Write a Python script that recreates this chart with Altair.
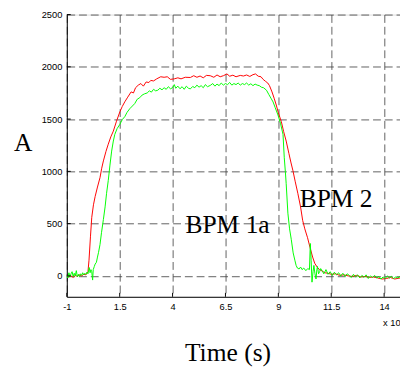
import altair as alt
import pandas as pd

red_x = [-1.0, -0.9, -0.8, -0.7, -0.6, -0.5, -0.4, -0.3, -0.2, -0.1, 0.0, 0.05, 0.12, 0.18, 0.26, 0.34,
         0.45, 0.57, 0.65, 0.73, 0.85, 0.96, 1.08, 1.2, 1.35, 1.51, 1.62, 1.74, 1.88, 2.04, 2.15, 2.25,
         2.38, 2.5, 2.62, 2.75, 2.88, 2.97, 3.1, 3.25, 3.44, 3.6, 3.75, 3.9, 4.08, 4.25, 4.4, 4.6, 4.84,
         5.0, 5.15, 5.3, 5.45, 5.6, 5.78, 5.95, 6.1, 6.25, 6.4, 6.57, 6.7, 6.85, 7.0, 7.2, 7.35, 7.5,
         7.65, 7.8, 7.92, 8.05, 8.18, 8.28, 8.4, 8.5, 8.58, 8.7, 8.8, 8.9, 9.0, 9.14, 9.25, 9.37, 9.5,
         9.6, 9.69, 9.8, 9.92, 10.05, 10.15, 10.25, 10.38, 10.5, 10.62, 10.72, 10.85, 10.95, 11.08,
         11.2, 11.35, 11.5, 11.7, 11.9, 12.1, 12.3, 12.5, 12.7, 12.9, 13.1, 13.3, 13.5, 13.7, 13.9,
         14.1, 14.3, 14.5, 14.75]
red_y = [5, -10, 0, -15, 5, -5, 10, 0, 15, 10, 40, 150, 380, 560, 680, 760,
         850, 940, 1030, 1100, 1190, 1260, 1330, 1385, 1480, 1570, 1620, 1665, 1710, 1760, 1750, 1800,
         1825, 1840, 1815, 1855, 1850, 1870, 1865, 1885, 1905, 1900, 1905, 1880, 1885, 1895, 1885, 1900, 1898,
         1915, 1900, 1912, 1895, 1918, 1915, 1900, 1922, 1905, 1915, 1932, 1910, 1920, 1905, 1918, 1912, 1922,
         1908, 1925, 1932, 1910, 1905, 1880, 1860, 1845, 1820, 1760, 1700, 1635, 1560, 1476, 1380, 1290, 1170,
         1080, 1006, 900, 790, 660, 530, 450, 365, 270, 180, 120, 80, 60, 45,
         30, 25, 15, 20, 5, 10, 0, -5, 5, -10, -5, -15, -10, -20, -30,
         -25, -15, -30, -20]

green_x = [-1.0, -0.95, -0.9, -0.85, -0.8, -0.75, -0.7, -0.65, -0.6, -0.55, -0.5, -0.45, -0.4, -0.35,
           -0.3, -0.25, -0.2, -0.15, -0.1, -0.05, 0.0, 0.06, 0.1, 0.14, 0.18, 0.22, 0.25, 0.3, 0.34,
           0.4, 0.45, 0.5, 0.57, 0.64, 0.73, 0.81, 0.88, 0.96, 1.04, 1.12, 1.2, 1.27, 1.38, 1.51, 1.62,
           1.74, 1.85, 1.98, 2.1, 2.21, 2.33, 2.45, 2.56, 2.68, 2.8, 2.9, 3.0, 3.1, 3.2, 3.3, 3.4, 3.5,
           3.6, 3.7, 3.8, 3.9, 4.0, 4.08, 4.15, 4.25, 4.35, 4.45, 4.55, 4.65, 4.75, 4.84, 4.95, 5.05,
           5.15, 5.25, 5.35, 5.45, 5.55, 5.65, 5.78, 5.9, 6.0, 6.1, 6.2, 6.3, 6.4, 6.5, 6.6, 6.7, 6.8,
           6.9, 7.0, 7.1, 7.2, 7.3, 7.4, 7.5, 7.6, 7.7, 7.8, 7.9, 8.0, 8.1, 8.2, 8.3, 8.44, 8.55, 8.65,
           8.75, 8.85, 8.98, 9.1, 9.22, 9.28, 9.33, 9.37, 9.45, 9.53, 9.61, 9.7, 9.78, 9.84, 9.9, 9.98,
           10.05, 10.12, 10.2, 10.3, 10.39, 10.47, 10.51, 10.55, 10.59, 10.64, 10.68, 10.73, 10.78,
           10.82, 10.85, 10.9, 10.95, 11.0, 11.08, 11.15, 11.25, 11.35, 11.45, 11.55, 11.65, 11.75,
           11.85, 11.95, 12.05, 12.15, 12.25, 12.35, 12.45, 12.55, 12.65, 12.75, 12.85, 12.95, 13.05,
           13.15, 13.25, 13.35, 13.45, 13.55, 13.65, 13.75, 13.85, 13.95, 14.05, 14.15, 14.25, 14.35,
           14.45, 14.55, 14.65, 14.75]
green_y = [10, -20, 30, -10, 20, 40, -5, 25, 0, 50, -10, 15, -5, 20,
           5, 30, 10, 25, 15, 35, 20, 80, 30, 60, 40, -40, 60, 90, 113,
           130, 180, 225, 300, 413, 540, 660, 790, 912, 1060, 1194, 1290, 1354, 1410, 1450, 1495,
           1523, 1565, 1600, 1625, 1648, 1690, 1705, 1730, 1742, 1750, 1770, 1758, 1785, 1770, 1776, 1795, 1780,
           1800, 1785, 1810, 1790, 1800, 1830, 1795, 1815, 1790, 1810, 1785, 1815, 1795, 1789, 1812, 1800,
           1825, 1805, 1820, 1800, 1830, 1810, 1822, 1840, 1815, 1835, 1820, 1845, 1825, 1840, 1830, 1850, 1825,
           1840, 1830, 1845, 1825, 1840, 1830, 1845, 1825, 1838, 1820, 1835, 1825, 1820, 1805, 1800, 1776, 1735, 1700,
           1664, 1610, 1540, 1460, 1354, 1130, 1000, 883, 600, 450, 350, 220, 150, 100, 75, 66,
           85, 60, 75, 50, 70, 60, 310, 150, -60, 40, 100, 20, -30,
           60, 90, 20, 40, 70, 45, 20, 60, 15, 40, 5, 35, 10,
           30, 0, 25, -5, 20, 5, -15, 15, -10, 10, -20, 5, -15,
           10, -25, 0, -15, 5, -20, -5, -30, -10, -25, 0, -20, -5,
           -25, -10, -20, -5]

series_names = ["BPM 2", "BPM 1a"]
series_colors = ["#ff0000", "#00ff00"]

x_ticks = [-1, 1.5, 4, 6.5, 9, 11.5, 14]
y_ticks = [0, 500, 1000, 1500, 2000, 2500]

label_text = ["BPM 1a", "BPM 2", "x 10"]
label_x = [6.6, 11.73, 13.95]
label_y = [410, 659, -480]
label_align = ["center", "center", "left"]
label_size = [26, 26, 9.5]
label_font = ["Liberation Serif", "Liberation Serif", "Liberation Sans"]

df = pd.concat([
    pd.DataFrame({"t": red_x, "v": red_y, "s": series_names[0]}),
    pd.DataFrame({"t": green_x, "v": green_y, "s": series_names[1]}),
])

X_DOM = [-1, 14.75]
Y_DOM = [-200, 2500]
W, H = 340, 288

xs = alt.Scale(domain=X_DOM, nice=False, zero=False)
ys = alt.Scale(domain=Y_DOM, nice=False, zero=False)

grid_kw = dict(grid=True, gridColor="#444", gridDash=[8, 4], gridWidth=1, gridOpacity=0.85,
               domainColor="#000", domainWidth=1, ticks=False,
               labelFont="Liberation Sans", labelFontSize=9.5, labelColor="#000",
               labelExpr="'' + datum.value",
               titleFont="Liberation Serif", titleFontSize=26, titleFontWeight="normal", titleColor="#000")

lines = alt.Chart(df).mark_line(strokeWidth=1, clip=True).encode(
    x=alt.X("t:Q", scale=xs,
            axis=alt.Axis(values=x_ticks, title="Time (s)", labelPadding=5, titleX=164, titleY=65,
                          titleAlign="center", titleBaseline="alphabetic", labelFlush=False, **grid_kw)),
    y=alt.Y("v:Q", scale=ys,
            axis=alt.Axis(values=y_ticks, title="A", labelPadding=5, titleAngle=0, titleX=-45,
                          titleY=139, titleAlign="center", titleBaseline="alphabetic", labelFlush=False,
                          **grid_kw)),
    color=alt.Color("s:N", scale=alt.Scale(domain=series_names, range=series_colors), legend=None),
)

xt = alt.Chart(pd.DataFrame({"t": x_ticks})).mark_rule(color="#000", strokeWidth=1).encode(
    x=alt.X("t:Q", scale=xs), y=alt.value(H), y2=alt.value(H - 4))
yt = alt.Chart(pd.DataFrame({"v": y_ticks})).mark_rule(color="#000", strokeWidth=1).encode(
    y=alt.Y("v:Q", scale=ys), x=alt.value(0), x2=alt.value(4))

ann = pd.DataFrame({"txt": label_text, "x": label_x, "y": label_y})
texts = []
for i in range(len(label_text)):
    texts.append(
        alt.Chart(ann.iloc[[i]]).mark_text(
            align=label_align[i], baseline="alphabetic", fontSize=label_size[i],
            font=label_font[i], color="#000", clip=False
        ).encode(x=alt.X("x:Q", scale=xs), y=alt.Y("y:Q", scale=ys), text="txt:N")
    )

chart = alt.layer(lines, xt, yt, *texts).properties(
    width=W, height=H,
    autosize=alt.AutoSizeParams(type="none"),
    padding={"left": 60, "top": 3, "right": 0, "bottom": 71},
).configure_view(stroke=None).configure(background="#ffffff")

chart.save("out.html", embed_options={"renderer": "svg", "actions": False})
